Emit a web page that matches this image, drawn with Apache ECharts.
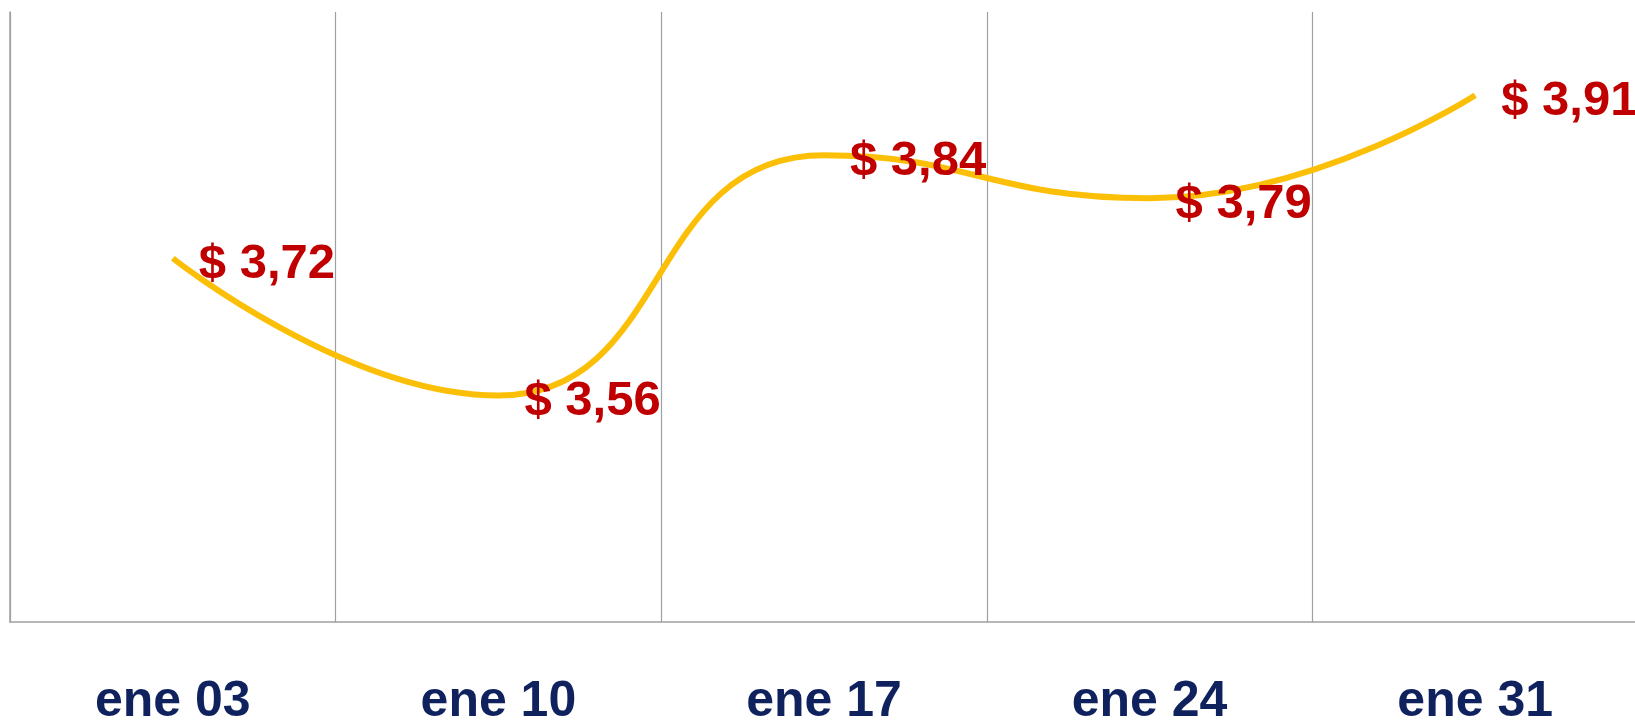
<!DOCTYPE html>
<html>
<head>
<meta charset="utf-8">
<script src="https://cdn.jsdelivr.net/npm/echarts@6/dist/echarts.min.js"></script>
<style>
html,body{margin:0;padding:0;background:#fff;}
#chart{width:1635px;height:725px;}
</style>
</head>
<body>
<div id="chart"></div>
<script>
var categories = ['ene 03', 'ene 10', 'ene 17', 'ene 24', 'ene 31'];
var prices = [3.72, 3.56, 3.84, 3.79, 3.91];

var chart = echarts.init(document.getElementById('chart'));
chart.setOption({
  animation: false,
  backgroundColor: '#ffffff',
  grid: { left: 10, width: 1628, top: 12, bottom: 103, containLabel: false, outerBoundsMode: 'none' },
  xAxis: {
    type: 'category',
    data: categories,
    boundaryGap: true,
    axisLine: { show: true, lineStyle: { color: '#a0a0a0', width: 1.5 } },
    axisTick: { show: false },
    splitLine: { show: true, lineStyle: { color: '#a0a0a0', width: 1.2 } },
    axisLabel: {
      color: '#0f225e',
      fontFamily: 'Liberation Sans, Arial, sans-serif',
      fontWeight: 'bold',
      fontSize: 50,
      margin: 55,
      interval: 0
    }
  },
  yAxis: {
    type: 'value',
    min: 3.296,
    max: 4.007,
    axisLine: { show: true, lineStyle: { color: '#a0a0a0', width: 1.5 } },
    axisTick: { show: false },
    axisLabel: { show: false },
    splitLine: { show: false }
  },
  series: [{
    type: 'line',
    data: prices,
    smooth: 0.5,
    symbol: 'circle',
    symbolSize: 0,
    showSymbol: true,
    itemStyle: { color: 'rgba(251,191,10,0)' },
    lineStyle: { color: '#fcbf08', width: 6 },
    label: {
      show: true,
      position: 'right',
      distance: 26,
      offset: [0, 6],
      color: '#c00000',
      fontFamily: 'Liberation Sans, Arial, sans-serif',
      fontWeight: 'bold',
      fontSize: 49,
      formatter: function (p) { return '$ ' + p.value.toFixed(2).replace('.', ','); }
    }
  }]
});
</script>
</body>
</html>
